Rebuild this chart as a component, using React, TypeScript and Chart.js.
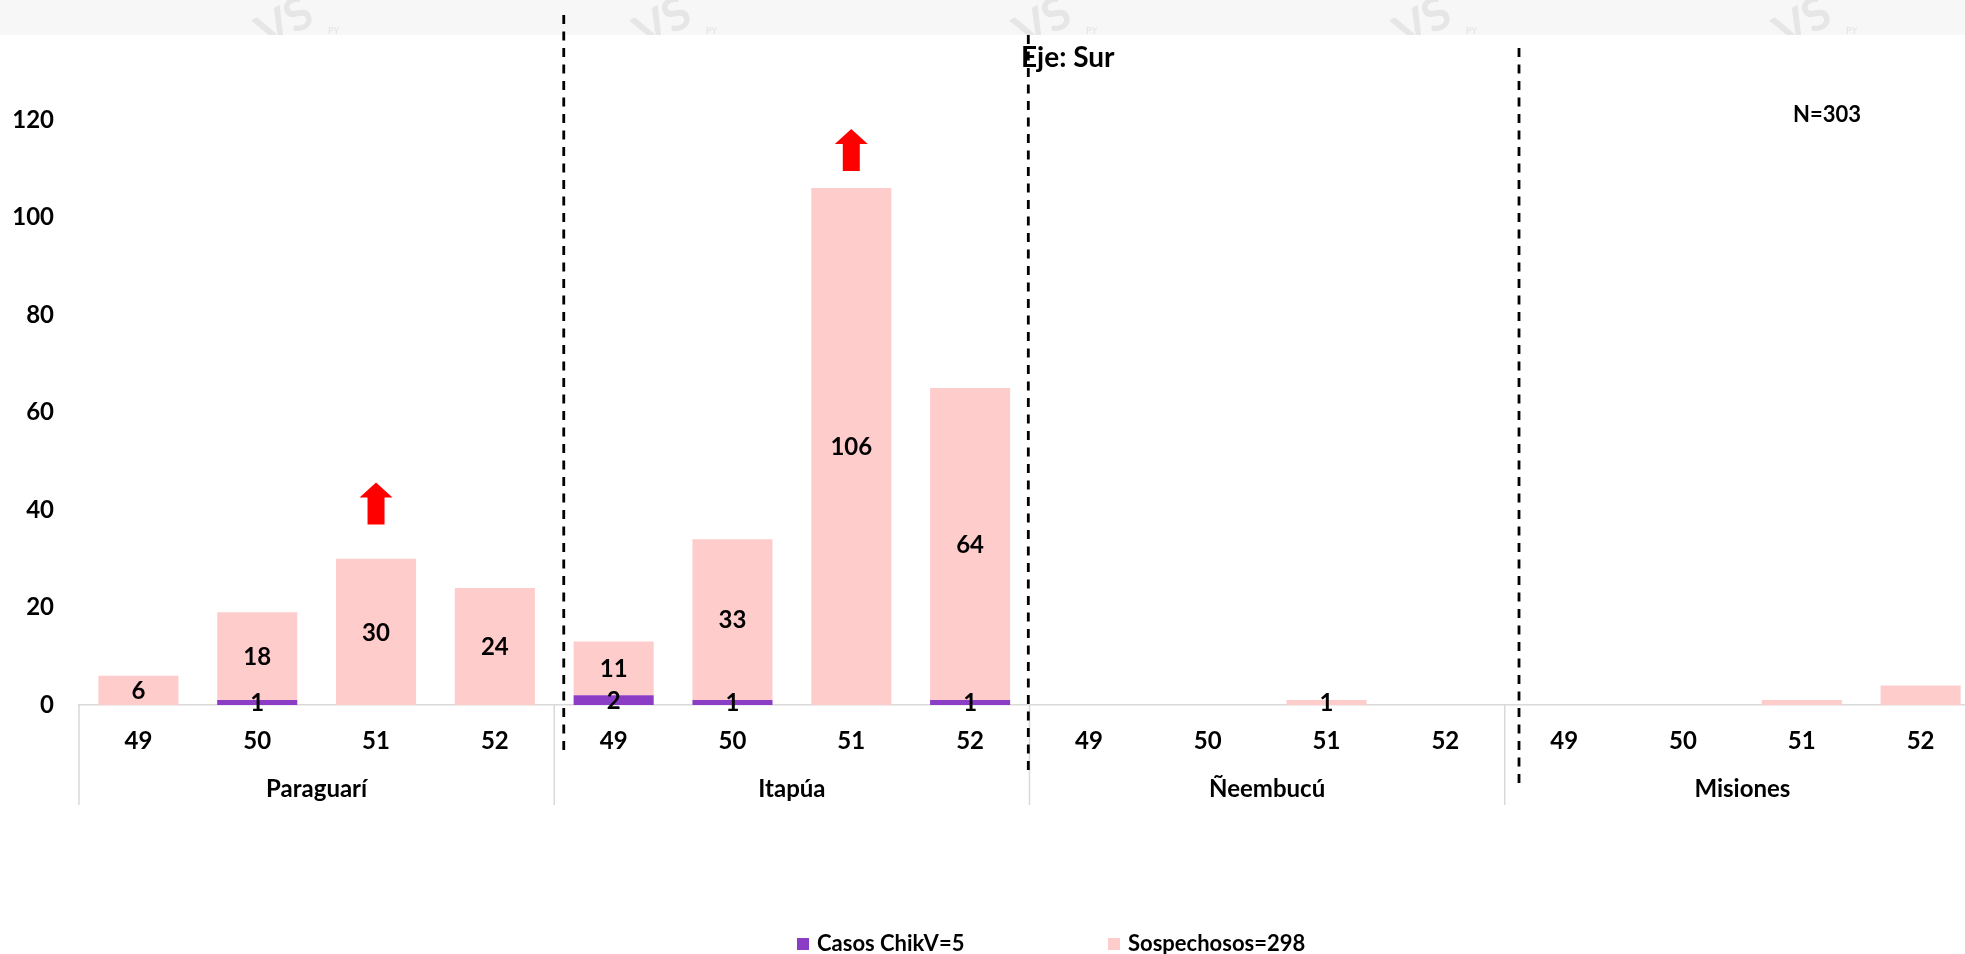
import React, { useEffect, useRef } from "react";
import { Chart, registerables } from "chart.js";

Chart.register(...registerables);

// ---- Data ----
const groups = ["Paraguarí", "Itapúa", "Ñeembucú", "Misiones"];
const weeks = ["49", "50", "51", "52"];
const casosChikV = [0, 1, 0, 0, 2, 1, 0, 1, 0, 0, 0, 0, 0, 0, 0, 0];
const sospechosos = [6, 18, 30, 24, 11, 33, 106, 64, 0, 0, 1, 0, 0, 0, 1, 4];
const groupShowsLabels = [true, true, true, false];
const seriesNames = ["Casos ChikV=5", "Sospechosos=298"];
const chartTitle = "Eje: Sur";
const totalLabel = "N=303";
const arrowIndices = [2, 6];
const arrowBaseValues = [37, 109.5];
const dividerPositions = [3.58, 7.49, 11.62];
const yMax = 130;
const yStep = 20;

const categories = groups.flatMap(() => weeks);

const FONT = "Lato, 'Open Sans', 'DejaVu Sans', sans-serif";
const PURPLE = "#8B3DC6";
const PINK = "#FFCCCC";
const GRAY = "#D9D9D9";

const overlayPlugin = {
  id: "overlay",
  beforeDraw(chart: any) {
    const ctx = chart.ctx as CanvasRenderingContext2D;
    ctx.save();
    ctx.fillStyle = "#F7F7F7";
    ctx.fillRect(0, 0, chart.width, 35);
    ctx.beginPath();
    ctx.rect(0, 0, chart.width, 35);
    ctx.clip();
    ctx.fillStyle = "#E6E6E6";
    for (const wx of [292, 670, 1050, 1430, 1810]) {
      ctx.save();
      ctx.translate(wx, 36);
      ctx.rotate(-0.5);
      ctx.font = `bold 46px ${FONT}`;
      ctx.textAlign = "center";
      ctx.textBaseline = "alphabetic";
      ctx.fillText("VS", 0, 0);
      ctx.restore();
      ctx.font = `bold 9px ${FONT}`;
      ctx.textAlign = "left";
      ctx.fillText("PY", wx + 36, 34);
    }
    ctx.restore();
  },
  afterDatasetsDraw(chart: any) {
    const ctx = chart.ctx as CanvasRenderingContext2D;
    const xs = chart.scales.x;
    const ys = chart.scales.y;
    const area = chart.chartArea;
    const catW = (xs.right - xs.left) / categories.length;

    ctx.save();
    // data labels
    ctx.fillStyle = "#000";
    ctx.font = `bold 24px ${FONT}`;
    ctx.textAlign = "center";
    ctx.textBaseline = "middle";
    chart.data.datasets.forEach((ds: any, di: number) => {
      const meta = chart.getDatasetMeta(di);
      ds.data.forEach((v: number, i: number) => {
        if (!v || !groupShowsLabels[Math.floor(i / weeks.length)]) return;
        const p = meta.data[i].getCenterPoint();
        ctx.fillText(String(v), p.x, p.y + 1);
      });
    });

    // arrows
    ctx.fillStyle = "#FF0000";
    arrowIndices.forEach((idx, k) => {
      const cx = xs.getPixelForValue(idx);
      const yb = ys.getPixelForValue(arrowBaseValues[k]);
      const yt = yb - 42;
      ctx.beginPath();
      ctx.moveTo(cx, yt);
      ctx.lineTo(cx + 16.5, yt + 15);
      ctx.lineTo(cx + 8.5, yt + 15);
      ctx.lineTo(cx + 8.5, yb);
      ctx.lineTo(cx - 8.5, yb);
      ctx.lineTo(cx - 8.5, yt + 15);
      ctx.lineTo(cx - 16.5, yt + 15);
      ctx.closePath();
      ctx.fill();
    });

    // group separators and labels
    ctx.strokeStyle = GRAY;
    ctx.lineWidth = 1.5;
    groups.forEach((g, gi) => {
      const left = xs.left + gi * weeks.length * catW;
      ctx.beginPath();
      ctx.moveTo(left, area.bottom);
      ctx.lineTo(left, 805);
      ctx.stroke();
      ctx.fillStyle = "#000";
      ctx.font = `bold 24px ${FONT}`;
      ctx.textAlign = "center";
      ctx.textBaseline = "middle";
      ctx.fillText(g, left + (weeks.length * catW) / 2, 789);
    });

    // dashed dividers
    const dashRanges = [
      [15, 752],
      [35, 773],
      [48, 785],
    ];
    ctx.strokeStyle = "#000";
    ctx.lineWidth = 2.8;
    ctx.setLineDash([9, 7.5]);
    dividerPositions.forEach((pos, k) => {
      const x = xs.getPixelForValue(pos);
      ctx.beginPath();
      ctx.moveTo(x, dashRanges[k][0]);
      ctx.lineTo(x, dashRanges[k][1]);
      ctx.stroke();
    });
    ctx.setLineDash([]);

    // title and total
    ctx.fillStyle = "#000";
    ctx.font = `bold 28px ${FONT}`;
    ctx.textAlign = "left";
    ctx.textBaseline = "middle";
    ctx.fillText(chartTitle, 1021, 58);
    ctx.font = `bold 22px ${FONT}`;
    ctx.textAlign = "center";
    ctx.fillText(totalLabel, 1827, 115);

    // legend
    const legendX = [797, 1108];
    const colors = [PURPLE, PINK];
    seriesNames.forEach((name, i) => {
      ctx.fillStyle = colors[i];
      ctx.fillRect(legendX[i], 938, 12, 12);
      ctx.fillStyle = "#000";
      ctx.font = `bold 22px ${FONT}`;
      ctx.textAlign = "left";
      ctx.textBaseline = "middle";
      ctx.fillText(name, legendX[i] + 20, 944);
    });
    ctx.restore();
  },
};

export default function App() {
  const ref = useRef<HTMLCanvasElement | null>(null);

  useEffect(() => {
    if (!ref.current) return;
    const chart = new Chart(ref.current, {
      type: "bar",
      data: {
        labels: categories,
        datasets: [
          {
            label: seriesNames[0],
            data: casosChikV,
            backgroundColor: PURPLE,
            borderWidth: 0,
            barPercentage: 0.674,
            categoryPercentage: 1,
          },
          {
            label: seriesNames[1],
            data: sospechosos,
            backgroundColor: PINK,
            borderWidth: 0,
            barPercentage: 0.674,
            categoryPercentage: 1,
          },
        ],
      },
      options: {
        responsive: false,
        animation: false,
        devicePixelRatio: 1,
        layout: { padding: { top: 71, right: 5, bottom: 0, left: 0 } },
        plugins: {
          legend: { display: false },
          tooltip: { enabled: false },
          title: { display: false },
        },
        scales: {
          x: {
            type: "category",
            stacked: true,
            grid: { display: false, drawTicks: false },
            border: { display: true, color: GRAY, width: 1.5 },
            ticks: {
              color: "#000",
              font: { family: FONT, size: 24, weight: "bold" },
              padding: 22,
              maxRotation: 0,
              autoSkip: false,
            },
            afterFit: (s: any) => {
              s.height = 249;
            },
          },
          y: {
            stacked: true,
            min: 0,
            max: yMax,
            grid: { display: false, drawTicks: false },
            border: { display: false },
            ticks: {
              stepSize: yStep,
              includeBounds: false,
              color: "#000",
              font: { family: FONT, size: 24, weight: "bold" },
              padding: 25,
            },
            afterFit: (s: any) => {
              s.width = 79;
            },
          },
        },
      },
      plugins: [overlayPlugin],
    });
    return () => chart.destroy();
  }, []);

  return (
    <div
      style={{
        position: "fixed",
        left: 0,
        top: 0,
        width: 1965,
        height: 954,
        overflow: "hidden",
        background: "#fff",
      }}
    >
      <canvas ref={ref} width={1985} height={954} style={{ width: 1985, height: 954 }} />
    </div>
  );
}
